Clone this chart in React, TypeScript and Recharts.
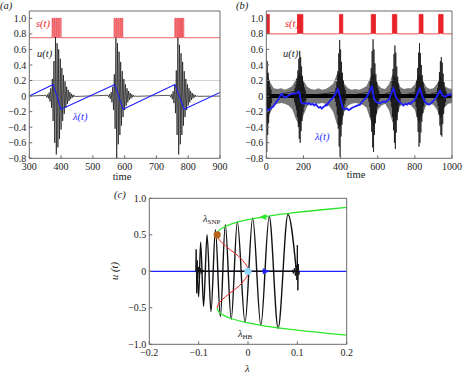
import React from 'react';
import {
  ComposedChart,
  Line,
  Area,
  XAxis,
  YAxis,
  ReferenceLine,
  ReferenceDot,
} from 'recharts';

const FONT = "'Liberation Serif', 'Times New Roman', Times, serif";
const FRAME = '#6a6a6a';
const INK = '#222';
const RED = '#e8222a';
const BLUE = '#1f1fff';
const GREEN = '#2ee62e';
const STEP = 2.5; // half period of the fast oscillation (time units)

// ---- panel (a) ----
const aTicksX = [300, 400, 500, 600, 700, 800, 900];
const abTicksY = [-0.8, -0.6, -0.4, -0.2, 0, 0.2, 0.4, 0.6, 0.8, 1.0];
const aLambdaT = [300, 375, 400, 569, 595, 758, 787, 900];
const aLambdaV = [0, 0.15, -0.17, 0.15, -0.17, 0.15, -0.17, 0.047];
const aPulseOn = [372, 378, 384, 390, 396, 567, 573, 579, 585, 591, 758, 764, 770, 776, 782];
const aPulseOff = [375, 381, 387, 393, 400, 570, 576, 582, 588, 594, 761, 767, 773, 779, 786];
const aBurstStart = [352.5, 547.5, 742.5];
const aBurst1 = [0.01, -0.015, 0.02, -0.03, 0.045, -0.07, 0.1, -0.15, 0.22, -0.32, 0.45, -0.6, 0.76, -0.75, 0.68, -0.66, 0.6, -0.55, 0.48, -0.43, 0.36, -0.32, 0.27, -0.23, 0.19, -0.15, 0.12, -0.1, 0.08, -0.065, 0.05, -0.04, 0.03, -0.022, 0.016, -0.012, 0.008, -0.005];
const aBurst2 = [0.01, -0.015, 0.025, -0.035, 0.05, -0.08, 0.12, -0.18, 0.28, -0.42, 0.75, -0.8, 0.68, -0.62, 0.57, -0.5, 0.44, -0.38, 0.32, -0.27, 0.22, -0.18, 0.15, -0.12, 0.1, -0.08, 0.065, -0.05, 0.04, -0.03, 0.022, -0.016, 0.012, -0.008, 0.005, -0.003];
const aBurst3 = [0.01, -0.015, 0.025, -0.04, 0.06, -0.09, 0.14, -0.22, 0.33, -0.5, 0.75, -0.75, 0.66, -0.62, 0.55, -0.5, 0.44, -0.38, 0.32, -0.27, 0.22, -0.18, 0.15, -0.12, 0.1, -0.08, 0.065, -0.05, 0.04, -0.03, 0.022, -0.016, 0.012, -0.008, 0.005, -0.003];

// ---- panel (b) ----
const bTicksX = [0, 200, 400, 600, 800, 1000];
const bPulseOn = [0, 168, 394, 565, 679, 823, 928];
const bPulseOff = [16, 197, 412, 588, 703, 844, 952];
const bBurstStart = [0, 150, 370, 550, 667.5, 800, 917.5];
const bBursts = [
  [0.58, -0.72, 0.45, -0.5, 0.3, -0.35, 0.2, -0.22, 0.12, -0.14, 0.08, -0.09],
  [0.06, -0.08, 0.1, -0.12, 0.15, -0.18, 0.22, -0.27, 0.33, -0.4, 0.48, -0.55, 0.58, -0.6, 0.5, -0.45, 0.38, -0.32, 0.26, -0.21, 0.17, -0.14, 0.11, -0.09, 0.07, -0.06],
  [0.05, -0.07, 0.1, -0.13, 0.18, -0.24, 0.32, -0.42, 0.55, -0.65, 0.72, -0.78, 0.6, -0.52, 0.44, -0.37, 0.3, -0.25, 0.2, -0.16, 0.12, -0.1, 0.08, -0.06],
  [0.05, -0.07, 0.1, -0.14, 0.2, -0.27, 0.36, -0.46, 0.58, -0.66, 0.73, -0.72, 0.6, -0.5, 0.42, -0.35, 0.28, -0.23, 0.18, -0.14, 0.11, -0.09, 0.07, -0.05],
  [0.05, -0.07, 0.1, -0.14, 0.2, -0.27, 0.35, -0.44, 0.54, -0.6, 0.65, -0.68, 0.56, -0.47, 0.38, -0.31, 0.25, -0.2, 0.16, -0.12, 0.09, -0.07, 0.05],
  [0.05, -0.07, 0.1, -0.14, 0.2, -0.27, 0.36, -0.46, 0.56, -0.65, 0.68, -0.6, 0.55, -0.47, 0.4, -0.33, 0.27, -0.22, 0.17, -0.13, 0.1, -0.08, 0.06],
  [0.05, -0.07, 0.1, -0.13, 0.18, -0.24, 0.31, -0.38, 0.45, -0.5, 0.5, -0.52, 0.43, -0.36, 0.29, -0.23, 0.18, -0.14, 0.1, -0.08, 0.06],
];
// noise spread of u(t), sampled every 20 time units
const bFuzzHi = [0.35, 0.18, 0.1, 0.09, 0.1, 0.08, 0.1, 0.13, 0.22, 0.3, 0.2, 0.12, 0.09, 0.08, 0.1, 0.08, 0.09, 0.12, 0.16, 0.28, 0.3, 0.16, 0.1, 0.08, 0.09, 0.08, 0.1, 0.13, 0.24, 0.3, 0.15, 0.1, 0.09, 0.15, 0.28, 0.24, 0.12, 0.09, 0.1, 0.1, 0.15, 0.28, 0.22, 0.12, 0.09, 0.1, 0.16, 0.26, 0.13, 0.1, 0.09];
const bFuzzLo = [-0.4, -0.22, -0.12, -0.1, -0.09, -0.1, -0.12, -0.17, -0.3, -0.38, -0.25, -0.13, -0.1, -0.09, -0.1, -0.09, -0.1, -0.13, -0.2, -0.36, -0.4, -0.2, -0.12, -0.1, -0.09, -0.1, -0.11, -0.15, -0.3, -0.4, -0.18, -0.12, -0.1, -0.18, -0.34, -0.3, -0.13, -0.1, -0.1, -0.12, -0.18, -0.35, -0.25, -0.12, -0.1, -0.11, -0.18, -0.3, -0.14, -0.1, -0.09];
const bLambdaT = [0, 5, 12, 20, 28, 35, 42, 50, 58, 66, 72, 78, 84, 90, 98, 105, 111, 120, 130, 140, 147, 155, 163, 170, 175, 180, 186, 192, 200, 210, 219, 230, 240, 250, 258, 266, 275, 283, 291, 299, 306, 314, 320, 326, 333, 340, 348, 355, 362, 370, 377, 385, 390, 397, 404, 410, 416, 425, 435, 444, 452, 462, 472, 482, 492, 505, 515, 525, 533, 541, 550, 558, 565, 569, 575, 580, 586, 595, 605, 613, 622, 632, 642, 650, 657, 665, 672, 679, 684, 690, 696, 702, 710, 720, 730, 738, 748, 758, 768, 776, 783, 790, 797, 804, 810, 816, 822, 828, 834, 840, 846, 852, 860, 868, 876, 884, 892, 900, 908, 914, 920, 926, 932, 936, 942, 948, 955, 962, 970, 978, 986, 994, 1000];
const bLambdaV = [-0.15, -0.19, -0.18, -0.17, -0.15, -0.14, -0.12, -0.09, -0.06, -0.04, -0.01, 0.02, 0.03, 0.0, -0.02, -0.01, -0.01, 0.01, 0.02, 0.03, 0.035, 0.03, 0.04, 0.05, 0.06, 0.03, -0.07, -0.09, -0.1, -0.09, -0.1, -0.09, -0.11, -0.1, -0.12, -0.1, -0.13, -0.15, -0.14, -0.16, -0.14, -0.13, -0.11, -0.12, -0.09, -0.07, -0.05, -0.03, -0.01, 0.02, 0.05, 0.09, 0.06, -0.01, -0.08, -0.14, -0.16, -0.17, -0.16, -0.18, -0.17, -0.15, -0.14, -0.13, -0.12, -0.11, -0.08, -0.05, -0.03, -0.01, 0.03, 0.07, 0.11, 0.12, 0.03, -0.03, -0.06, -0.08, -0.09, -0.09, -0.08, -0.07, -0.08, -0.06, -0.05, -0.02, 0.03, 0.07, 0.1, 0.06, 0.0, -0.03, -0.06, -0.08, -0.1, -0.12, -0.1, -0.11, -0.09, -0.1, -0.08, -0.07, -0.05, -0.03, 0.0, 0.04, 0.08, 0.1, 0.05, 0.0, -0.03, -0.06, -0.09, -0.1, -0.11, -0.1, -0.08, -0.06, -0.04, -0.02, 0.0, 0.03, 0.06, 0.07, 0.04, 0.01, 0.0, -0.01, 0.0, 0.02, 0.01, 0.03, 0.02];

// ---- panel (c) ----
const cTicksX = [-0.2, -0.1, 0, 0.1, 0.2];
const cTicksY = [-1, -0.5, 0, 0.5, 1];
const cBranchL = [-0.0625, -0.06, -0.05, -0.033, -0.005, 0.035, 0.09, 0.161, 0.2];
const cBranchU = [0.5, 0.55, 0.6, 0.65, 0.7, 0.75, 0.8, 0.85, 0.875];
const cUnstableL = [-0.0625, -0.06, -0.054, -0.046, -0.037, -0.027, -0.018, -0.011, -0.005, -0.001, 0, -0.001, -0.005, -0.011, -0.018, -0.027, -0.037, -0.046, -0.054, -0.06, -0.0625];
const cUnstableU = [0.5, 0.45, 0.4, 0.35, 0.3, 0.25, 0.2, 0.15, 0.1, 0.05, 0, -0.05, -0.1, -0.15, -0.2, -0.25, -0.3, -0.35, -0.4, -0.45, -0.5];
// orbit extremes, left to right
const cOrbitL = [-0.103, -0.1, -0.096, -0.09, -0.083, -0.075, -0.066, -0.056, -0.046, -0.034, -0.0216, -0.006, 0.0095, 0.026, 0.043, 0.061, 0.081, 0.098];
const cOrbitU = [0, -0.35, 0.4, -0.48, 0.5, -0.55, 0.57, -0.62, 0.64, -0.66, 0.68, -0.7, 0.73, -0.74, 0.75, -0.78, 0.78, 0];
const cSpikeRL = [0.09, 0.092, 0.094, 0.096, 0.098, 0.099, 0.1, 0.101, 0.102, 0.103, 0.104];
const cSpikeRU = [0.02, -0.03, 0.04, -0.06, 0.08, -0.12, 0.36, -0.26, 0.1, -0.05, 0];
const cSpikeLL = [-0.106, -0.105, -0.104, -0.103, -0.102, -0.1, -0.098, -0.096, -0.094, -0.092, -0.09];
const cSpikeLU = [0, 0.3, -0.3, 0.15, -0.1, 0.06, -0.05, 0.04, -0.03, 0.02, 0];
const cRestL = [-0.105, 0.1];
const cAxisL = [-0.2, 0.2];
const cSnp = [-0.0625, 0.5];
const cHb = [0, 0];
const cArrowBlue = [0.036, 0];
const cArrowGreen = [0.031, 0.745];

const pts = (ts: number[], vs: number[]) => ts.map((t, i) => ({ t, v: vs[i] }));
const burst = (start: number, vals: number[]) => vals.map((v, i) => ({ t: start + i * STEP, v }));
const pulses = (t0: number, t1: number, base: number, top: number, on: number[], off: number[]) => [
  { t: t0, v: base },
  ...on.flatMap((t, i) => [{ t, v: top }, { t: off[i], v: base }]),
  { t: t1, v: base },
];

const uA = [
  { t: 300, v: 0 },
  ...burst(aBurstStart[0], aBurst1),
  ...burst(aBurstStart[1], aBurst2),
  ...burst(aBurstStart[2], aBurst3),
  { t: 900, v: 0 },
];
const sA = pulses(300, 900, 0.75, 1.0, aPulseOn, aPulseOff);
const lamA = pts(aLambdaT, aLambdaV);

const uB = bBursts.flatMap((b, i) => [...burst(bBurstStart[i], b), { t: bBurstStart[i] + b.length * STEP, v: 0 }]);
const fuzzB = bFuzzHi.map((hi, i) => ({ t: i * 20, r: [bFuzzLo[i], hi] }));
const sB = pulses(0, 1000, 0.8, 1.05, bPulseOn, bPulseOff);
const lamB = pts(bLambdaT, bLambdaV);
const zeroB = pts([0, 1000], [0, 0]);

const greenUp = pts(cBranchL, cBranchU);
const greenDown = pts(cBranchL, cBranchU.map((u) => -u));
const redC = pts(cUnstableL, cUnstableU);
const orbitC = pts(cOrbitL, cOrbitU);
const spikeR = pts(cSpikeRL, cSpikeRU);
const spikeL = pts(cSpikeLL, cSpikeLU);
const restC = pts(cRestL, [0, 0]);
const axisC = pts(cAxisL, [0, 0]);

const fmt1 = (v: number) => (v === 0 ? '0' : v.toFixed(1).replace('-', '\u2212'));
const fmtInt = (v: number) => String(v);

const tickStyle = { fill: INK, fontSize: 10, fontFamily: FONT, style: { fontFamily: FONT } };

// axes occupy real space (recharts skips zero-size axes), so margins are reduced accordingly
const X_H = 20;
const Y_W = 26;

function frameAxes(xDom: number[], xTicks: number[], fx: (v: number) => string, yDom: number[], yTicks: number[], fy: (v: number) => string) {
  return [
    <XAxis key="xb" dataKey="t" type="number" domain={xDom} ticks={xTicks} tickFormatter={fx} allowDataOverflow
      height={X_H} tickSize={-3} tickMargin={8} stroke={FRAME} tick={tickStyle} interval={0} />,
    <XAxis key="xt" xAxisId="top" orientation="top" dataKey="t" type="number" domain={xDom} ticks={xTicks} allowDataOverflow
      height={1} tickSize={-3} tick={false} stroke={FRAME} interval={0} />,
    <YAxis key="yl" type="number" domain={yDom} ticks={yTicks} tickFormatter={fy} allowDataOverflow
      width={Y_W} tickSize={-3} tickMargin={6} stroke={FRAME} tick={tickStyle} interval={0} />,
    <YAxis key="yr" yAxisId="right" orientation="right" type="number" domain={yDom} ticks={yTicks} allowDataOverflow
      width={1} tickSize={-3} tick={false} stroke={FRAME} interval={0} />,
  ];
}

// plot box (left, top, right, bottom) in page pixels -> chart margins
const box = (l: number, t: number, r: number, b: number) => ({
  left: l - Y_W,
  top: t - 1,
  right: 467 - r - 1,
  bottom: 374 - b - X_H,
});

const layer: React.CSSProperties = { position: 'absolute', left: 0, top: 0 };

function arrow(dir: number, color: string) {
  return (p: any) => (
    <path
      d={`M${p.cx + 4 * dir},${p.cy} L${p.cx - 3 * dir},${p.cy - 3} L${p.cx - 3 * dir},${p.cy + 3} Z`}
      fill={color}
    />
  );
}

export default function App() {
  const lbl = { fontSize: 10.5, style: { fontFamily: FONT } };
  return (
    <div style={{ position: 'absolute', left: 0, top: 0, width: 467, height: 374, background: '#fff', fontFamily: FONT }}>
      {/* (a) */}
      <div style={layer}>
        <ComposedChart width={467} height={374} margin={box(29.3, 11, 220, 158.3)}>
          {frameAxes([300, 900], aTicksX, fmtInt, [-0.8, 1.094], abTicksY, fmt1)}
          <ReferenceLine y={0.2} stroke="#c9c9c9" strokeWidth={0.8} />
          <Area data={sA} dataKey="v" type="stepAfter" baseValue={0.75} fill="#f28c8c" fillOpacity={0.55}
            stroke={RED} strokeWidth={0.7} isAnimationActive={false} dot={false} activeDot={false} />
          <Line data={uA} dataKey="v" type="linear" stroke="#111" strokeWidth={0.7} dot={false} isAnimationActive={false} />
          <Line data={lamA} dataKey="v" type="linear" stroke={BLUE} strokeWidth={1.1} dot={false} isAnimationActive={false} />
        </ComposedChart>
      </div>

      {/* (b) */}
      <div style={layer}>
        <ComposedChart width={467} height={374} margin={box(266.3, 11, 452, 158.3)}>
          {frameAxes([0, 1000], bTicksX, fmtInt, [-0.8, 1.094], abTicksY, fmt1)}
          <ReferenceLine y={0.2} stroke="#c9c9c9" strokeWidth={0.8} />
          <Area data={fuzzB} dataKey="r" type="linear" fill="#4a4a4a" fillOpacity={0.75} stroke="none"
            isAnimationActive={false} dot={false} activeDot={false} />
          <Line data={zeroB} dataKey="v" stroke="#000" strokeWidth={4} dot={false} isAnimationActive={false} />
          <Line data={uB} dataKey="v" type="linear" stroke="#111" strokeWidth={0.7} dot={false} isAnimationActive={false} />
          <Area data={sB} dataKey="v" type="stepAfter" baseValue={0.8} fill={RED} fillOpacity={1}
            stroke={RED} strokeWidth={0.8} isAnimationActive={false} dot={false} activeDot={false} />
          <Line data={lamB} dataKey="v" type="linear" stroke={BLUE} strokeWidth={1.8} dot={false} isAnimationActive={false} />
        </ComposedChart>
      </div>

      {/* (c) */}
      <div style={layer}>
        <ComposedChart width={467} height={374} margin={box(149.3, 198.3, 346.7, 344.3)}>
          {frameAxes([-0.2, 0.2], cTicksX, fmt1, [-1, 1], cTicksY, fmt1)}
          <Line data={axisC} dataKey="v" stroke={BLUE} strokeWidth={1.2} dot={false} isAnimationActive={false} />
          <Line data={restC} dataKey="v" stroke="#111" strokeWidth={1.5} dot={false} isAnimationActive={false} />
          <Line data={spikeL} dataKey="v" type="linear" stroke="#111" strokeWidth={1} dot={false} isAnimationActive={false} />
          <Line data={spikeR} dataKey="v" type="linear" stroke="#111" strokeWidth={1} dot={false} isAnimationActive={false} />
          <Line data={orbitC} dataKey="v" type="monotone" stroke="#111" strokeWidth={1.4} dot={false} isAnimationActive={false} />
          <Line data={greenUp} dataKey="v" type="natural" stroke={GREEN} strokeWidth={1.3} dot={false} isAnimationActive={false} />
          <Line data={greenDown} dataKey="v" type="natural" stroke={GREEN} strokeWidth={1.3} dot={false} isAnimationActive={false} />
          <Line data={redC} dataKey="v" type="natural" stroke={RED} strokeWidth={1} dot={false} isAnimationActive={false} />
          <ReferenceDot x={cSnp[0]} y={cSnp[1]} r={3.6} fill="#b8621b" stroke="none" />
          <ReferenceDot x={cHb[0]} y={cHb[1]} r={3.6} fill="#8fd3ff" stroke="none" />
          <ReferenceDot x={cArrowBlue[0]} y={cArrowBlue[1]} r={3} shape={arrow(1, BLUE)} />
          <ReferenceDot x={cArrowGreen[0]} y={cArrowGreen[1]} r={3} shape={arrow(-1, GREEN)} />
        </ComposedChart>
      </div>

      {/* text annotations */}
      <svg width={467} height={374} style={{ ...layer, pointerEvents: 'none' }}>
        <g {...lbl} fill={INK} fontStyle="italic">
          <text x={0} y={9}>(a)</text>
          <text x={236} y={9}>(b)</text>
          <text x={114} y={198}>(c)</text>
          <text x={36} y={27} fill={RED}>s(t)</text>
          <text x={37} y={57}>u(t)</text>
          <text x={73} y={120} fill={BLUE}>λ(t)</text>
          <text x={285} y={27} fill={RED}>s(t)</text>
          <text x={283} y={57}>u(t)</text>
          <text x={315} y={140} fill={BLUE}>λ(t)</text>
          <text x={245} y={372}>λ</text>
          <text x={0} y={0} transform="translate(118,271) rotate(-90)" textAnchor="middle">u (t)</text>
        </g>
        <g {...lbl} fill={INK} fontStyle="normal">
          <text x={122} y={180} textAnchor="middle">time</text>
          <text x={356} y={178} textAnchor="middle">time</text>
          <text x={203} y={222} fontStyle="italic">λ<tspan fontSize={7} dy={2} fontStyle="normal">SNP</tspan></text>
          <text x={238} y={337} fontStyle="italic">λ<tspan fontSize={7} dy={2} fontStyle="normal">HB</tspan></text>
        </g>
      </svg>
    </div>
  );
}
